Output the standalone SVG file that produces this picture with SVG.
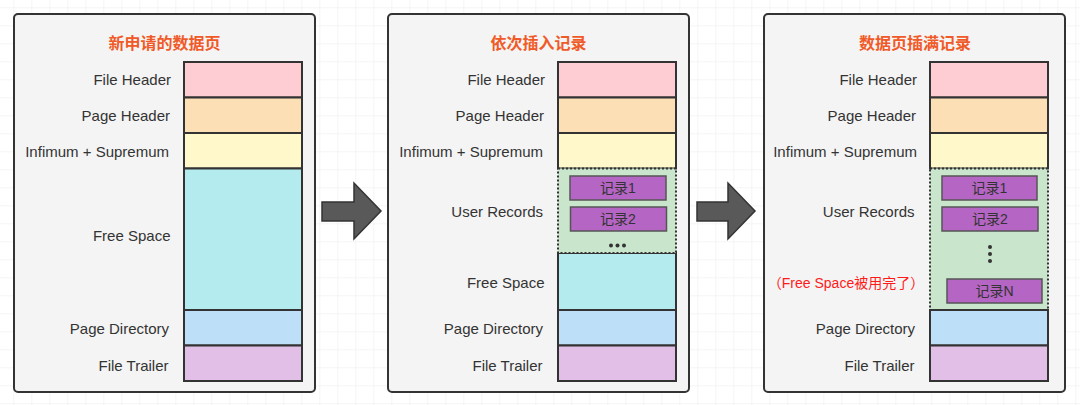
<svg xmlns="http://www.w3.org/2000/svg" width="1080" height="405" viewBox="0 0 1080 405">
<defs>
<pattern id="grid" x="13.3" y="7.3" width="18" height="18" patternUnits="userSpaceOnUse">
<path d="M0 0H18M0 0V18" fill="none" stroke="#ececec" stroke-width="1"/>
</pattern>
</defs>
<style>
.panel{fill:#f4f4f4;stroke:#333;stroke-width:2}
.cell{stroke:#333;stroke-width:2}
.fh{fill:#fecdd3}.ph{fill:#fddfb6}.is{fill:#fef8cb}.fs{fill:#b3ebef}.pd{fill:#bddff8}.ft{fill:#e1bfe6}
.ur{fill:#c9e5cb;stroke:#333;stroke-width:2;stroke-dasharray:2 2}
.rec{fill:#b565c4;stroke:#555;stroke-width:1.5}
.lbl{font-family:"Liberation Sans","Noto Sans CJK SC",sans-serif;font-size:15px;fill:#333;text-anchor:end}
.rt{font-family:"Liberation Sans","Noto Sans CJK SC",sans-serif;font-size:14px;fill:#333;text-anchor:middle}
.title{font-family:"Noto Sans CJK SC",sans-serif;font-size:16px;font-weight:bold;fill:#f05a28;text-anchor:middle}
.red{font-family:"Liberation Sans","Noto Sans CJK SC",sans-serif;font-size:14px;fill:#ff1a1a;text-anchor:middle}
.arrow{fill:#595959;stroke:#333;stroke-width:1.5;stroke-linejoin:miter}
.dot{fill:#333}
</style>
<rect width="1080" height="405" fill="#ffffff"/>
<rect width="1080" height="405" fill="url(#grid)"/>

<g id="panel1">
<rect class="panel" x="14" y="14" width="301" height="378" rx="4"/>
<text class="title" x="164.5" y="48.5">新申请的数据页</text>
<rect class="cell fh" x="184" y="62" width="118" height="35.5"/>
<rect class="cell ph" x="184" y="97.5" width="118" height="35.5"/>
<rect class="cell is" x="184" y="133" width="118" height="35.5"/>
<rect class="cell fs" x="184" y="168.5" width="118" height="141.5"/>
<rect class="cell pd" x="184" y="310" width="118" height="35.5"/>
<rect class="cell ft" x="184" y="345.5" width="118" height="35.5"/>
<text class="lbl" x="171" y="85">File Header</text>
<text class="lbl" x="170" y="121">Page Header</text>
<text class="lbl" x="169" y="157">Infimum + Supremum</text>
<text class="lbl" x="170.5" y="240.5">Free Space</text>
<text class="lbl" x="169" y="334">Page Directory</text>
<text class="lbl" x="168.5" y="371">File Trailer</text>
</g>

<g id="panel2">
<rect class="panel" x="388" y="14" width="301" height="378" rx="4"/>
<text class="title" x="538.5" y="48.5">依次插入记录</text>
<rect class="cell fh" x="558" y="62" width="118" height="35.5"/>
<rect class="cell ph" x="558" y="97.5" width="118" height="35.5"/>
<rect class="cell is" x="558" y="133" width="118" height="35.5"/>
<rect class="cell fs" x="558" y="253" width="118" height="57"/>
<rect class="ur" x="558" y="168.5" width="118" height="84.5"/>
<rect class="cell pd" x="558" y="310" width="118" height="35.5"/>
<rect class="cell ft" x="558" y="345.5" width="118" height="35.5"/>
<rect class="rec" x="570" y="176" width="96" height="24"/>
<text class="rt" x="618" y="193">记录1</text>
<rect class="rec" x="570.5" y="207" width="96" height="24"/>
<text class="rt" x="618" y="224">记录2</text>
<circle class="dot" cx="611" cy="245.5" r="2"/>
<circle class="dot" cx="617.5" cy="245.5" r="2"/>
<circle class="dot" cx="624" cy="245.5" r="2"/>
<text class="lbl" x="545" y="85">File Header</text>
<text class="lbl" x="544" y="121">Page Header</text>
<text class="lbl" x="543" y="157">Infimum + Supremum</text>
<text class="lbl" x="543" y="217">User Records</text>
<text class="lbl" x="544.5" y="288">Free Space</text>
<text class="lbl" x="543" y="334">Page Directory</text>
<text class="lbl" x="542.5" y="371">File Trailer</text>
</g>

<g id="panel3">
<rect class="panel" x="764" y="14" width="301" height="378" rx="4"/>
<text class="title" x="915" y="48.5">数据页插满记录</text>
<rect class="cell fh" x="930" y="62" width="118" height="35.5"/>
<rect class="cell ph" x="930" y="97.5" width="118" height="35.5"/>
<rect class="cell is" x="930" y="133" width="118" height="35.5"/>
<rect class="ur" x="930" y="168.5" width="118" height="141.5"/>
<rect class="cell pd" x="930" y="310" width="118" height="35.5"/>
<rect class="cell ft" x="930" y="345.5" width="118" height="35.5"/>
<rect class="rec" x="942" y="176" width="95" height="24"/>
<text class="rt" x="989.5" y="193">记录1</text>
<rect class="rec" x="942" y="207" width="96" height="24"/>
<text class="rt" x="990" y="224">记录2</text>
<circle class="dot" cx="990" cy="247" r="2"/>
<circle class="dot" cx="990" cy="254" r="2"/>
<circle class="dot" cx="990" cy="261" r="2"/>
<rect class="rec" x="947" y="279" width="95" height="24"/>
<text class="rt" x="994.5" y="296">记录N</text>
<text class="lbl" x="917" y="85">File Header</text>
<text class="lbl" x="916" y="121">Page Header</text>
<text class="lbl" x="917" y="157">Infimum + Supremum</text>
<text class="lbl" x="914.5" y="217">User Records</text>
<text class="red" x="846" y="288">（Free Space被用完了）</text>
<text class="lbl" x="915" y="334">Page Directory</text>
<text class="lbl" x="914.5" y="371">File Trailer</text>
</g>

<g id="connectors">
<polygon class="arrow" points="322,202 354,202 354,183 381,211 354,239 354,221 322,221"/>
<polygon class="arrow" points="697,202 728,202 728,183 755,211 728,239 728,221 697,221"/>
</g>
</svg>
